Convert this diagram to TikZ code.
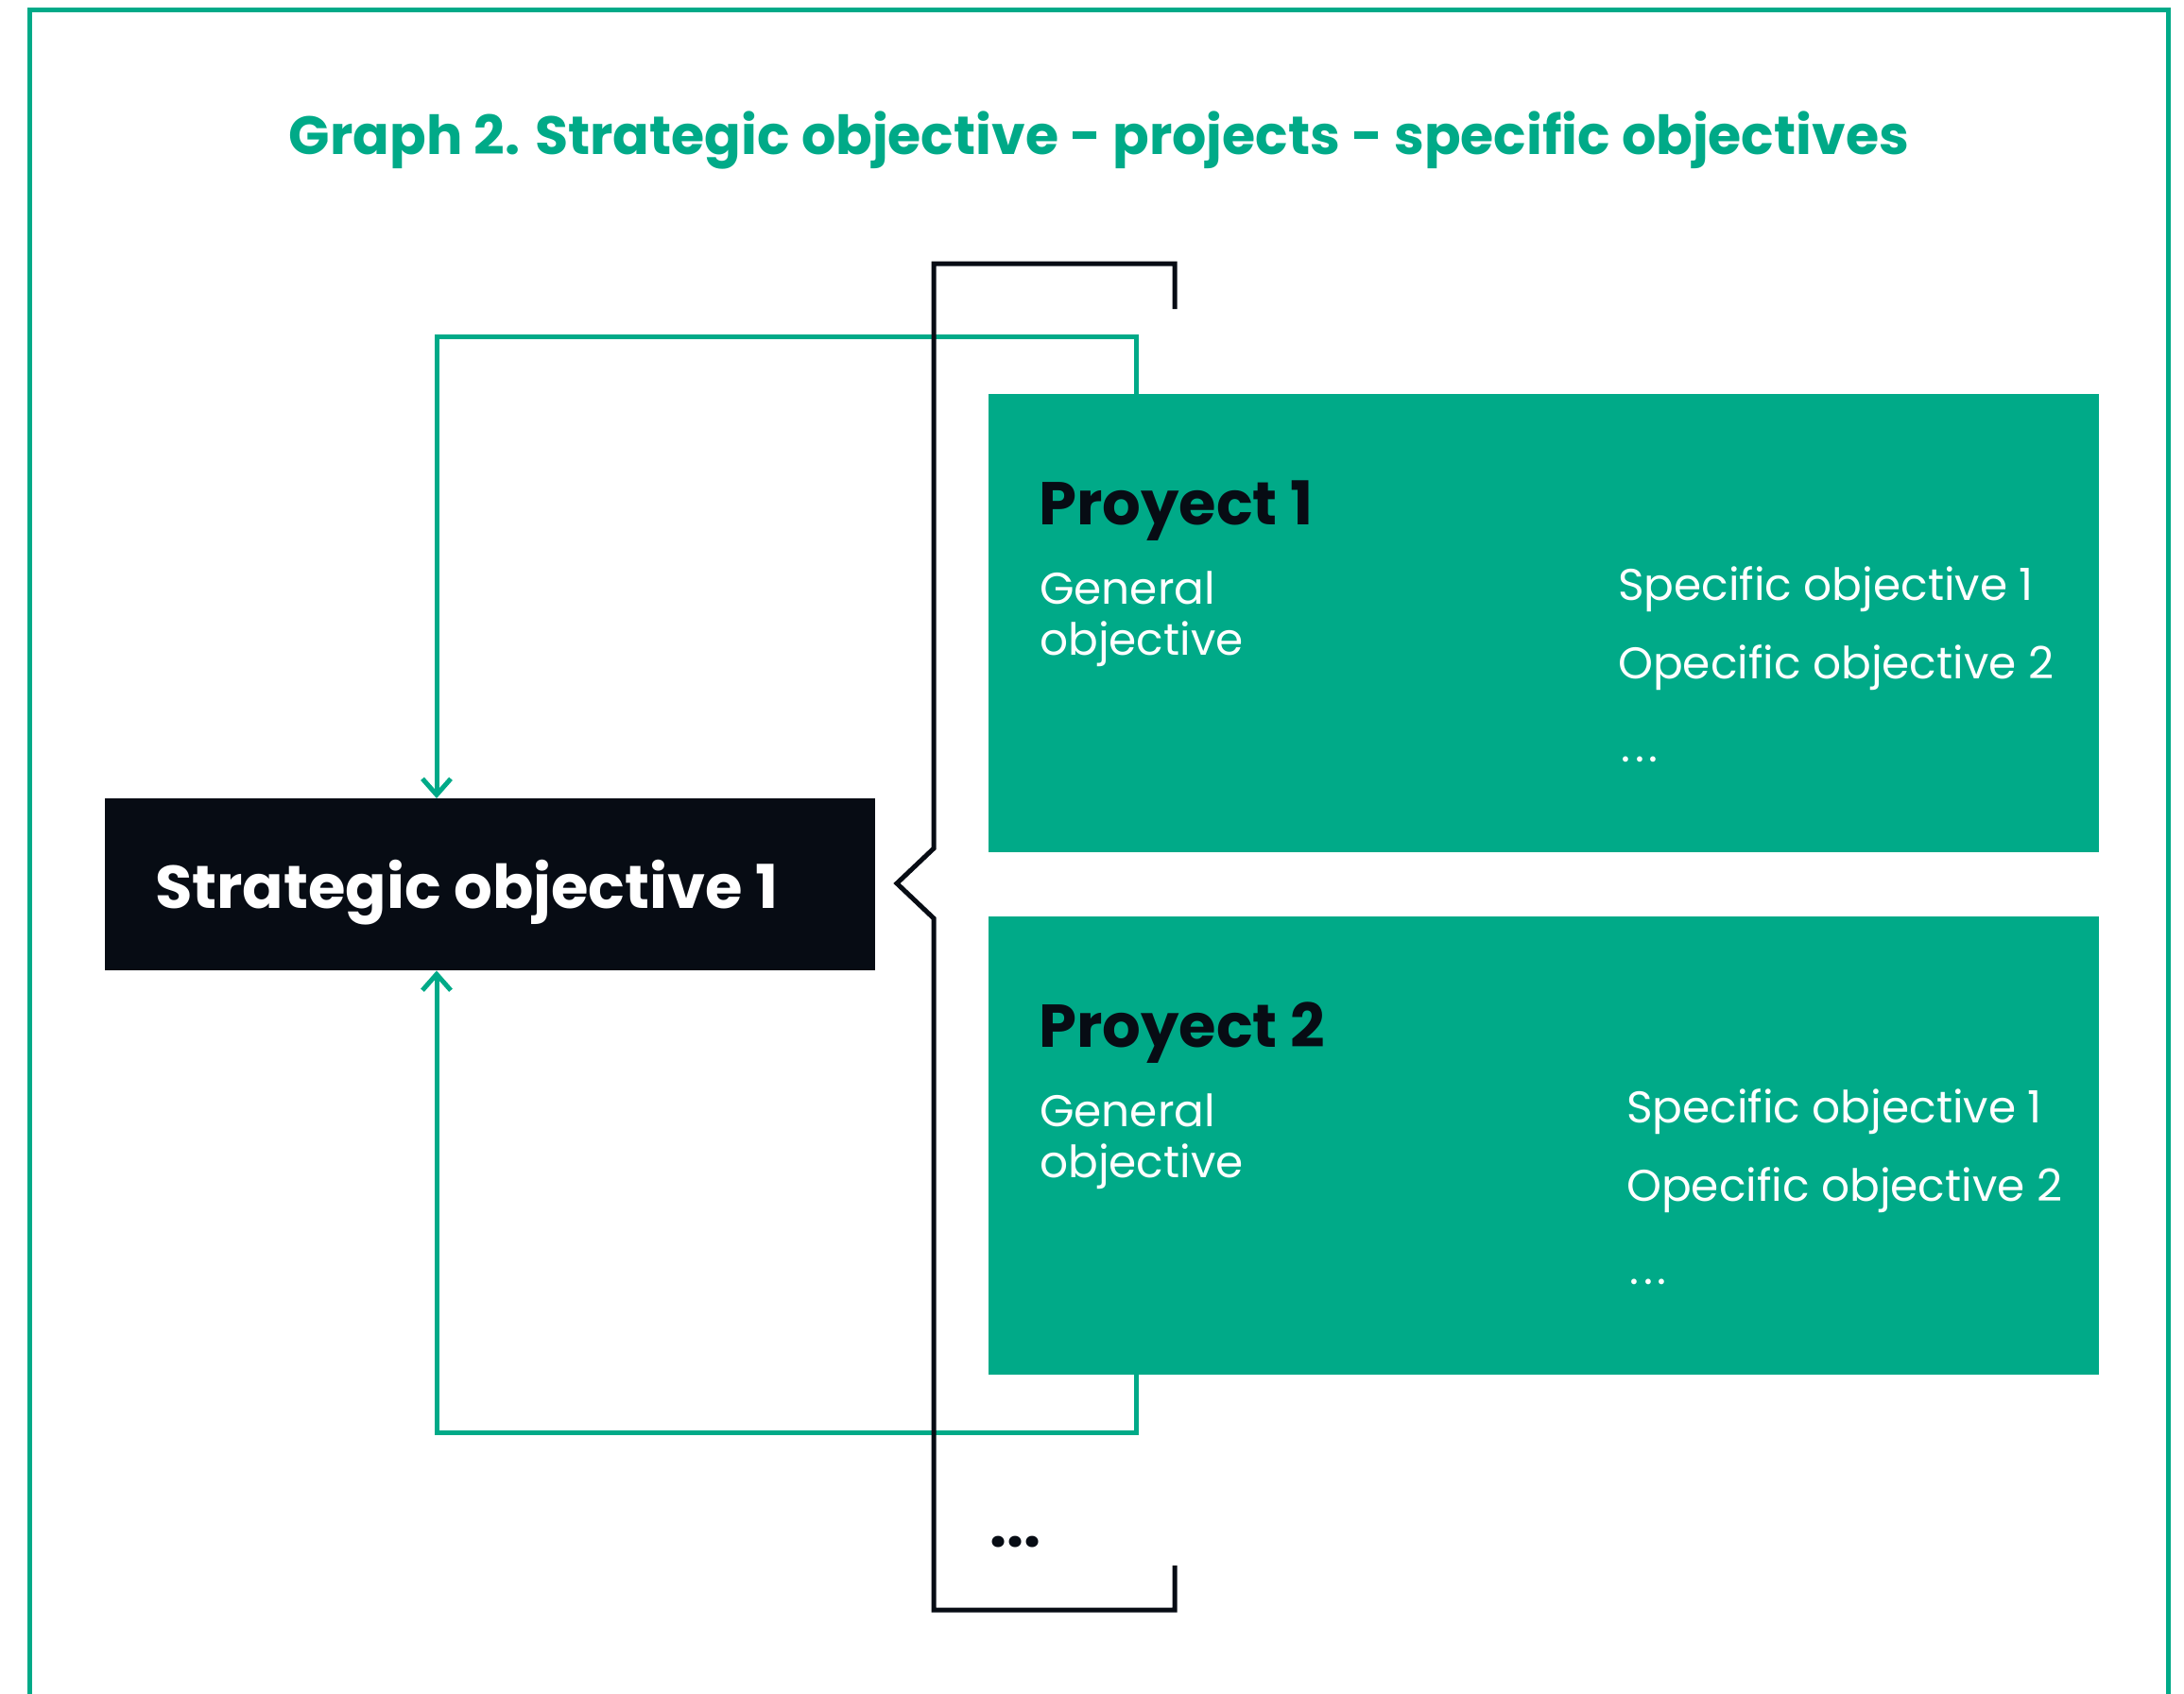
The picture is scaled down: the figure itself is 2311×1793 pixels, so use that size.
\documentclass[tikz,border=0pt]{standalone}
\usepackage{fontspec}
\setmainfont{Poppins}
\usetikzlibrary{arrows.meta}
\definecolor{brandgreen}{HTML}{00AA88}
\definecolor{ink}{HTML}{070C14}
\tikzset{
  gline/.style={draw=brandgreen, line width=5pt},
  bline/.style={draw=ink, line width=5pt},
  gtip/.style={-{Straight Barb[length=17pt,width=30pt]}},
  pbox/.style={fill=brandgreen, draw=none, inner sep=0pt, anchor=north west, minimum width=1175pt, minimum height=485pt},
  sbox/.style={fill=ink, draw=none, inner sep=0pt, anchor=north west, minimum width=815pt, minimum height=182pt},
  ptitle/.style={anchor=base west, inner sep=0pt, text=ink, font=\fontsize{64}{70}\selectfont\bfseries},
  wtext/.style={anchor=base west, inner sep=0pt, text=white, font=\fontsize{47}{54}\selectfont},
}
\newcommand{\spdots}{.\kern5pt.\kern5pt.}
\begin{document}
\begin{tikzpicture}[x=1pt,y=-1pt]
\useasboundingbox (0,0) rectangle (2311,1793);
\fill[white] (0,0) rectangle (2311,1793);
% outer frame
\draw[gline] (31,1800) -- (31,10.5) -- (2294,10.5) -- (2294,1800);
% title
\node[anchor=base, inner sep=0pt, text=brandgreen, font=\fontsize{57}{64}\selectfont\bfseries] (title) at (1163,163) {Graph 2. Strategic objective - projects - specific objectives};
% boxes
\node[sbox] (so) at (110.5,845) {};
\node[pbox] (p1) at (1046,417) {};
\node[pbox] (p2) at (1046,970) {};
% green connectors
\draw[gline, gtip] ([xshift=156pt]p1.north west) -- ++(0,-61) -| ([xshift=351.5pt]so.north west);
\draw[gline, gtip] ([xshift=156pt]p2.south west) -- ++(0,61) -| ([xshift=351.5pt]so.south west);
% black bracket
\draw[bline] (1243,327) -- (1243,279) -- (988,279) -- (988,898) -- (949,935) -- (988,972) -- (988,1704) -- (1243,1704) -- (1243,1657);
% strategic text
\node[anchor=base west, inner sep=0pt, text=white, font=\fontsize{64}{70}\selectfont\bfseries] (sotext) at (164,961) {Strategic objective 1};
% project 1
\node[ptitle] (p1t) at (1099,555) {Proyect 1};
\node[wtext] (p1g1) at (1100,639) {General};
\node[wtext] (p1g2) at (1100,693) {objective};
\node[wtext] (p1s1) at (1712,635) {Specific objective 1};
\node[wtext] (p1s2) at (1712,718) {Opecific objective 2};
\node[wtext] (p1s3) at (1715,806) {\spdots};
% project 2
\node[ptitle] (p2t) at (1099,1108) {Proyect 2};
\node[wtext] (p2g1) at (1100,1192) {General};
\node[wtext] (p2g2) at (1100,1246) {objective};
\node[wtext] (p2s1) at (1721,1188) {Specific objective 1};
\node[wtext] (p2s2) at (1721,1271) {Opecific objective 2};
\node[wtext] (p2s3) at (1724,1359) {\spdots};
% more
\node[anchor=base west, inner sep=0pt, text=ink, font=\fontsize{64}{70}\selectfont\bfseries] (more) at (1047,1637) {...};
\end{tikzpicture}
\end{document}
